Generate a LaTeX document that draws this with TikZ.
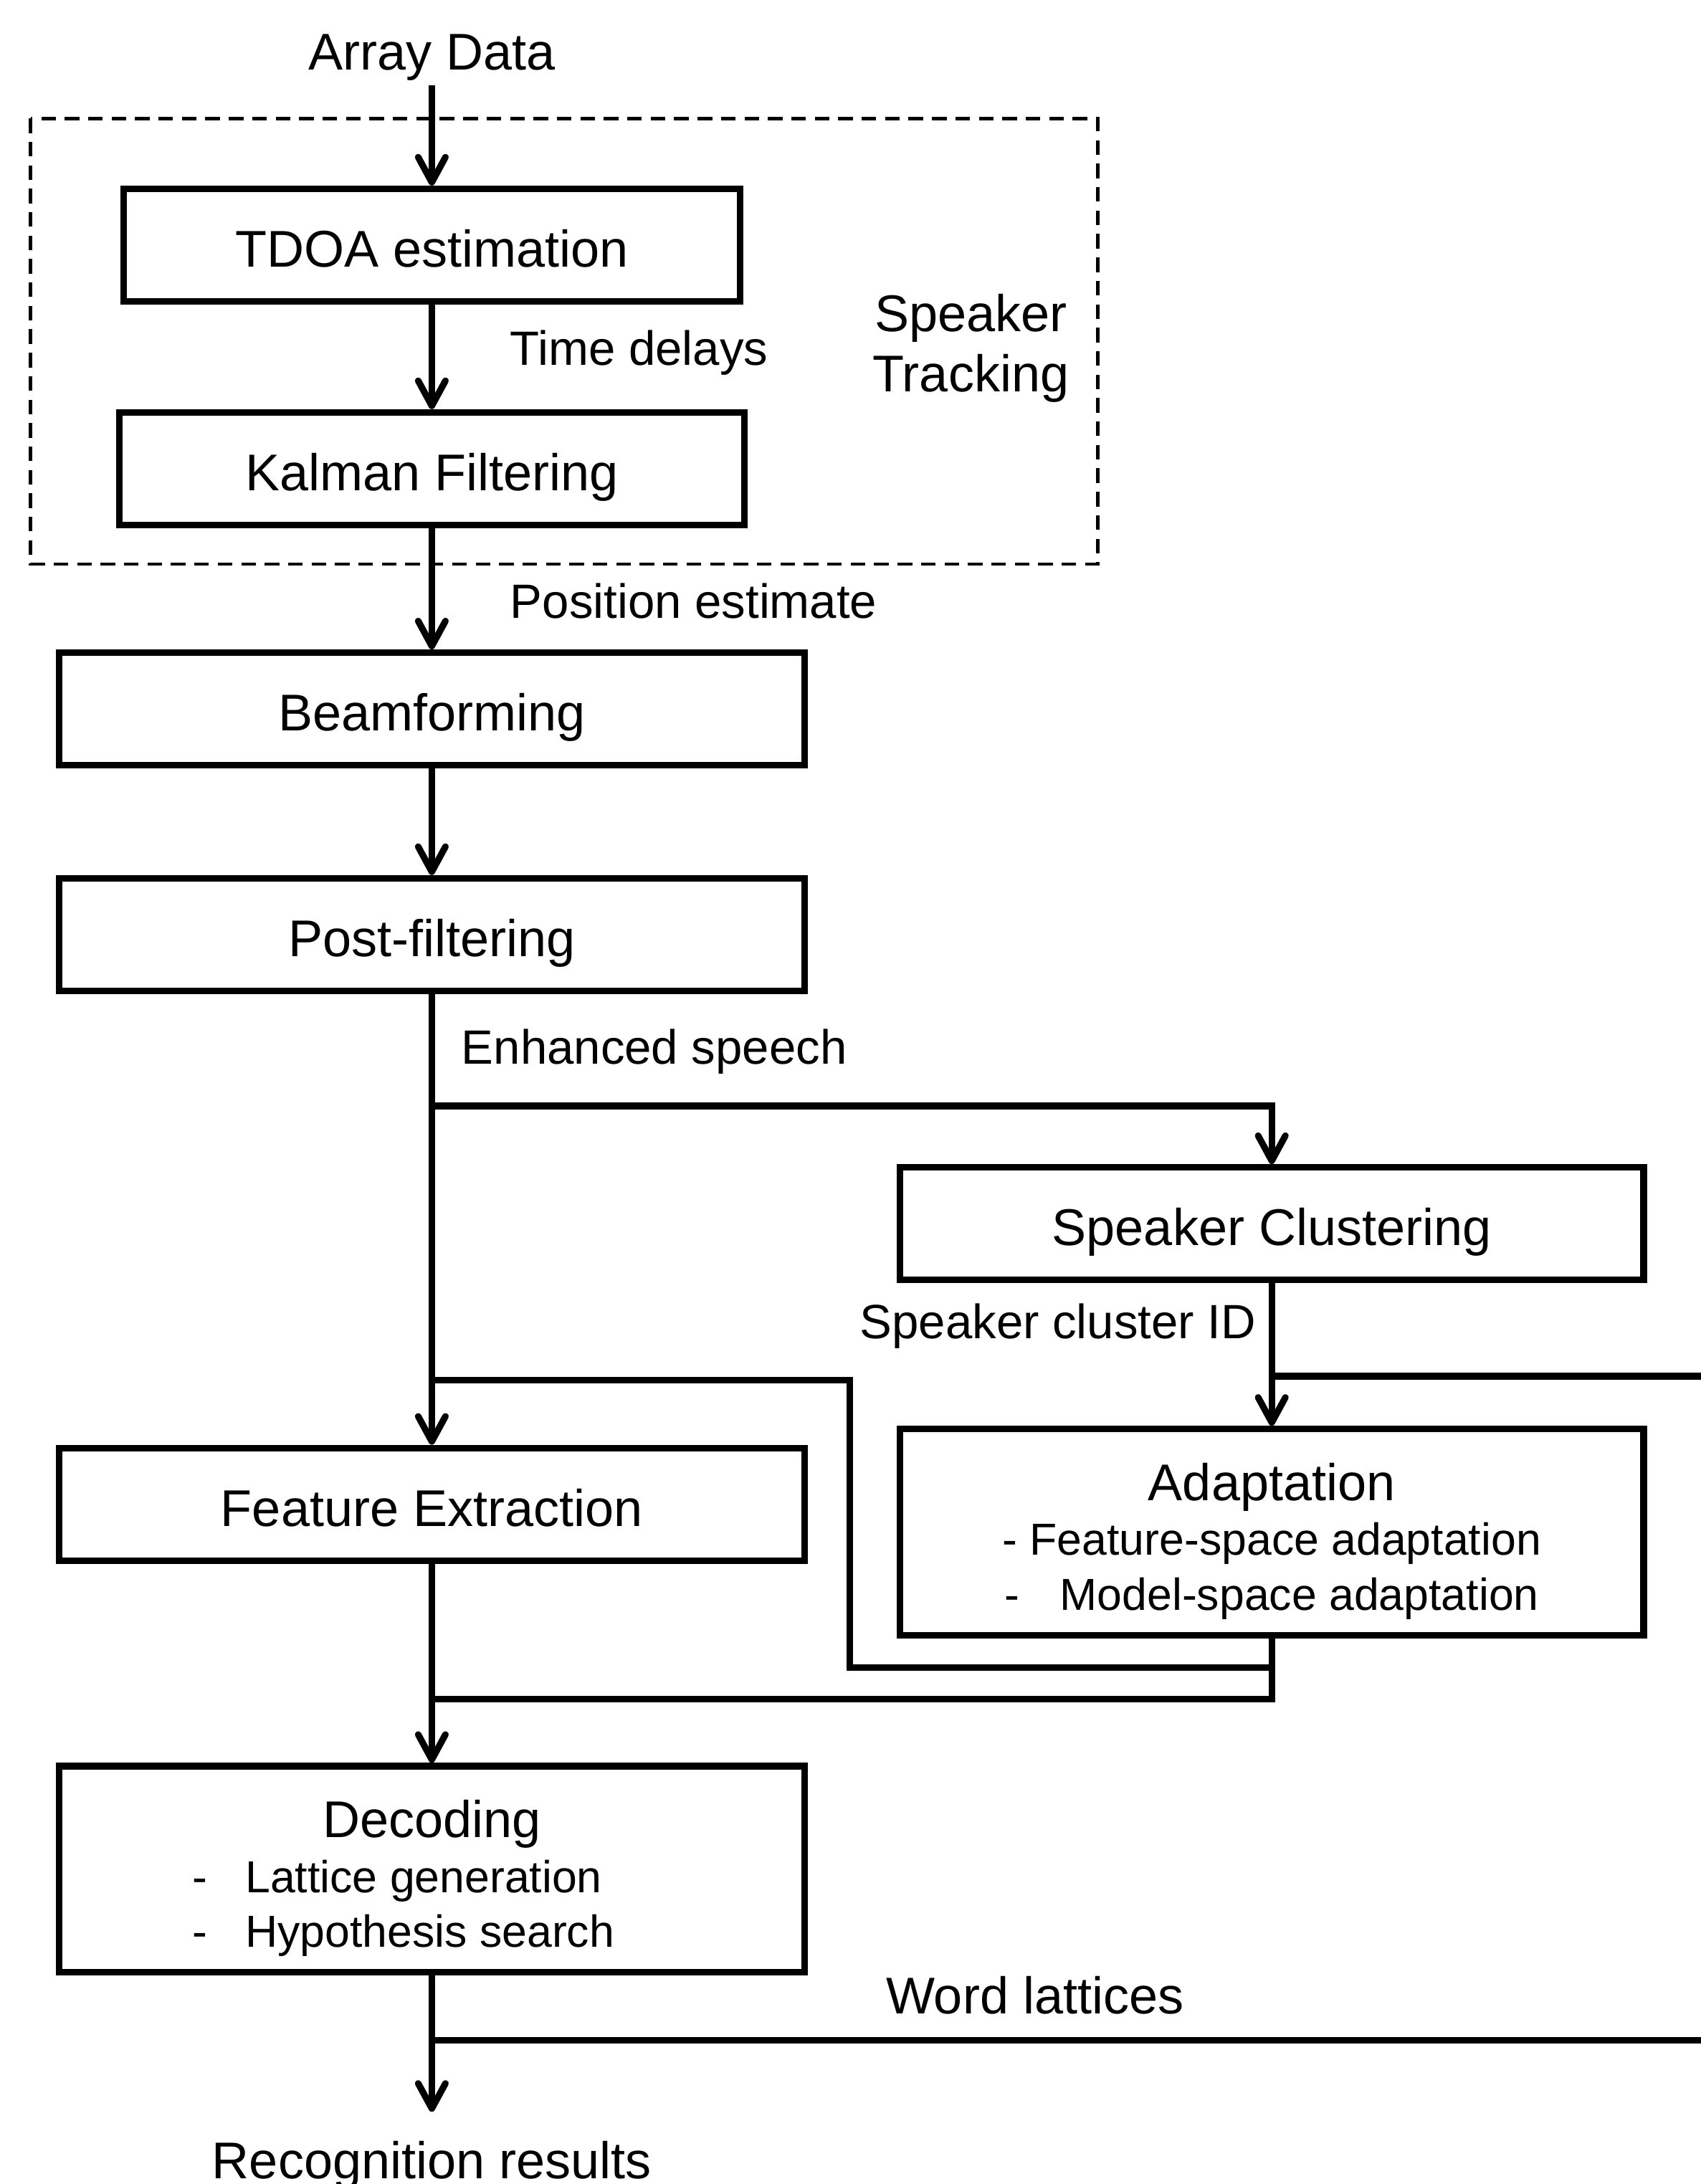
\documentclass[tikz,border=0pt]{standalone}
\usepackage{fontspec}
\setmainfont{Liberation Sans}
\usetikzlibrary{arrows.meta}

\begin{document}
\begin{tikzpicture}[x=0.019427cm, y=-0.019427cm,
        block/.style={draw, line width=2.6pt, minimum height=1.57cm, inner sep=0pt,
            text height=17.4pt, text depth=0pt, font=\fontsize{20.5}{24}\selectfont},
        stage/.style={block, minimum width=10.39cm},
        tall/.style={minimum height=2.875cm, text height={}, text depth={},
            font=\fontsize{17.8}{21.7}\selectfont, align=center},
        caption/.style={font=\fontsize{20.5}{24}\selectfont, inner sep=0pt},
        signal/.style={font=\fontsize{19.1}{23}\selectfont, inner sep=0pt},
        link/.style={line width=2.6pt},
        flow/.style={link, -{Straight Barb[length=3.5mm, width=3.8mm, round]}}]

    \useasboundingbox (0,0) rectangle (1221,1568);

    % Speaker tracking
    \node[caption, anchor=base, outer ysep=2pt] (array) at (310,50) {Array Data};
    \node[block, minimum width=8.59cm] (tdoa) at (310,176) {TDOA estimation};
    \node[block, minimum width=8.72cm] (kalman) at (310,336.5) {Kalman Filtering};
    \draw[dashed, line width=1.4pt, dash pattern=on 5.8pt off 3.5pt] (22,85) rectangle (788,405);
    \node[caption, align=center, font=\fontsize{20.5}{24}\selectfont] (tracking) at (697,250) {Speaker\\Tracking};

    % Front end
    \node[stage] (beam) at (310,509) {Beamforming};
    \node[stage] (post) at (310,671) {Post-filtering};
    \node[stage] (feat) at (310,1080) {Feature Extraction};
    \node[stage, tall] (dec) at (310,1342)
        {{\fontsize{20.5}{24}\selectfont\rule{0pt}{22pt}Decoding}\\
         \makebox[6.68cm][l]{\makebox[0.74cm][l]{-}Lattice generation}\\
         \makebox[6.68cm][l]{\makebox[0.74cm][l]{-}Hypothesis search}};
    \node[caption, anchor=base, outer ysep=11.6pt] (result) at (310,1564) {Recognition results};

    % Speaker side
    \node[block, minimum width=10.37cm] (clust) at (913,878.5) {Speaker Clustering};
    \node[block, tall, minimum width=10.37cm] (adapt) at (913,1100)
        {{\fontsize{20.5}{24}\selectfont\rule{0pt}{22pt}Adaptation}\\
         - Feature-space adaptation\\
         -\hspace{16pt}Model-space adaptation};

    % Labels
    \node[signal, anchor=base west] (delays) at (366,262) {Time delays};
    \node[signal, anchor=base west] (position) at (366,444) {Position estimate};
    \node[signal, anchor=base west] (enhanced) at (331,764) {Enhanced speech};
    \node[signal, anchor=base east] (clusterid) at (902,961) {Speaker cluster ID};
    \node[caption, anchor=base] (lattices) at (743,1446) {Word lattices};

    % Branch points
    \coordinate (split) at (310,794);
    \coordinate (idsplit) at (913,988);
    \coordinate (idout) at (1221,988);
    \coordinate (fetap) at (310,991);
    \coordinate (loopbot) at (610,1197);
    \coordinate (adjoin) at (913,1220);
    \coordinate (latsplit) at (310,1465);
    \coordinate (latout) at (1221,1465);

    % Connectors
    \draw[flow] (array) -- (tdoa);
    \draw[flow] (tdoa) -- (kalman);
    \draw[flow] (kalman) -- (beam);
    \draw[flow] (beam) -- (post);
    \draw[flow] (post) -- (feat);
    \draw[flow] (split) -| (clust.north);
    \draw[flow] (clust) -- (adapt);
    \draw[link] (idsplit) -- (idout);
    \draw[link] (fetap) -| (loopbot) -- (loopbot -| adapt.south);
    \draw[link] (adapt.south) -- (adjoin) -- (adjoin -| dec.north);
    \draw[flow] (feat) -- (dec);
    \draw[link] (latsplit) -- (latout);
    \draw[flow] (dec) -- (result);
\end{tikzpicture}
\end{document}
